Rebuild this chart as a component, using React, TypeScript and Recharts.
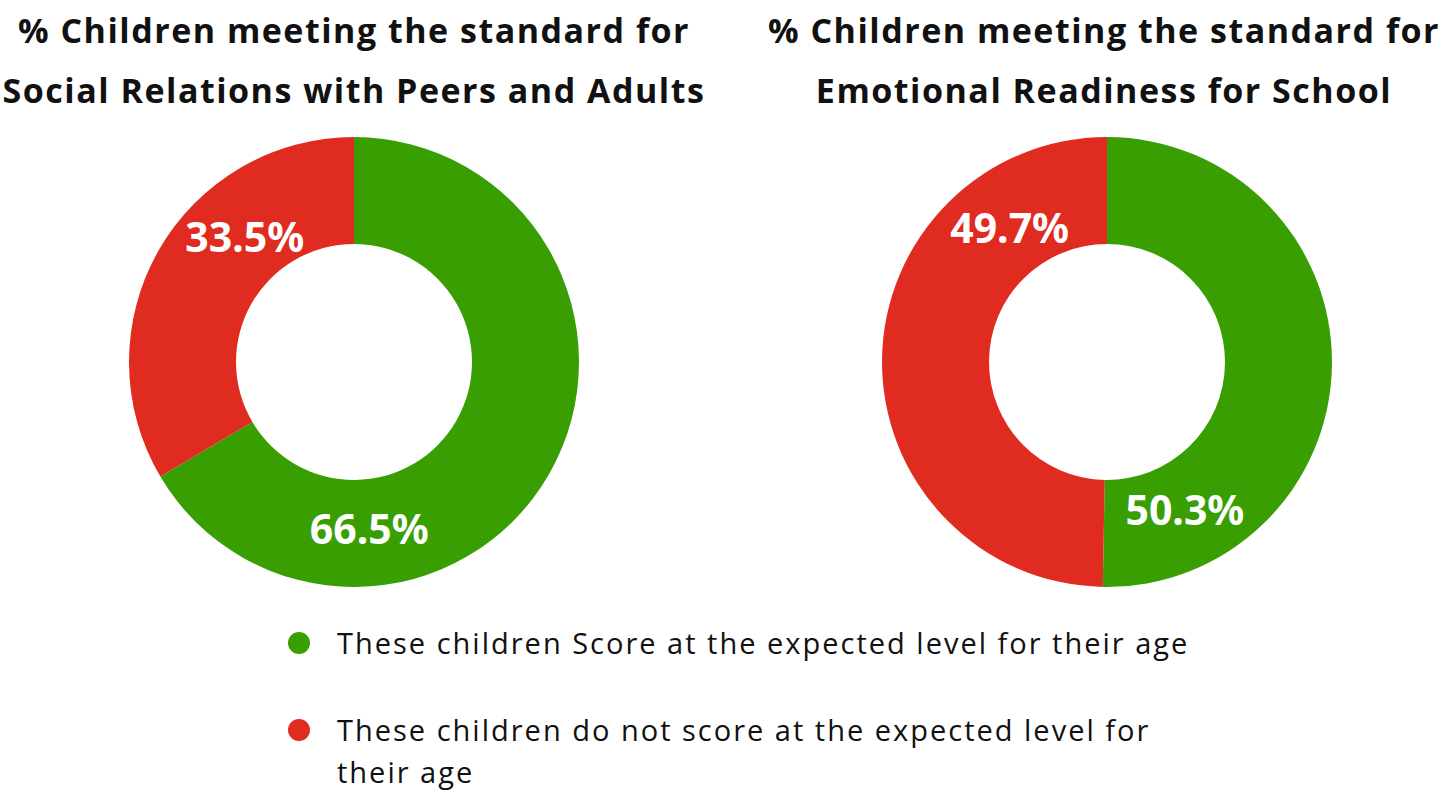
import { PieChart, Pie, Cell } from 'recharts';

// values in %, clockwise from 12 o'clock: met standard, did not meet
const categories = ['These children Score at the expected level for their age', 'These children do not score at the expected level for their age'];
const socialValues = [66.5, 33.5];
const emotionalValues = [50.3, 49.7];
const titles = [
  ['% Children meeting the standard for', 'Social Relations with Peers and Adults'],
  ['% Children meeting the standard for', 'Emotional Readiness for School'],
];

const COLORS = ['#389e02', '#e02b21'];
const RADIAN = Math.PI / 180;

const socialData = categories.map((name, i) => ({ name, value: socialValues[i] }));
const emotionalData = categories.map((name, i) => ({ name, value: emotionalValues[i] }));

// where along each slice (0 = start, 1 = end) the value label sits
const makeLabel = (fractions: number[]) => (props: any) => {
  const { cx, cy, innerRadius, outerRadius, startAngle, endAngle, index, value } = props;
  const angle = startAngle + (endAngle - startAngle) * fractions[index];
  const r = (innerRadius + outerRadius) / 2 - 5;
  const x = cx + r * Math.cos(-angle * RADIAN);
  const y = cy + r * Math.sin(-angle * RADIAN);
  return (
    <text
      x={x}
      y={y}
      fill="#fff"
      textAnchor="middle"
      dominantBaseline="central"
      fontFamily="'Noto Sans', sans-serif"
      fontSize={41}
      fontWeight={700}
    >
      {`${Number(value).toFixed(1)}%`}
    </text>
  );
};

const titleStyle: React.CSSProperties = {
  position: 'absolute',
  top: 0,
  width: 760,
  textAlign: 'center',
  fontFamily: "'Open Sans', sans-serif",
  fontWeight: 700,
  fontSize: 34,
  letterSpacing: 1.5,
  lineHeight: '60px',
  color: '#111',
};

export default function App() {
  return (
    <div style={{ position: 'absolute', left: 0, top: 0, width: 1443, height: 795, background: '#fff' }}>
      <div style={{ ...titleStyle, left: -26 }}>
        {titles[0][0]}<br />{titles[0][1]}
      </div>
      <div style={{ ...titleStyle, left: 724 }}>
        {titles[1][0]}<br />{titles[1][1]}
      </div>
      <div style={{ position: 'absolute', left: 0, top: 0 }}>
        <PieChart width={1443} height={610} margin={{ top: 0, right: 0, bottom: 0, left: 0 }}>
          <Pie
            data={socialData}
            dataKey="value"
            cx={354}
            cy={362}
            innerRadius={118}
            outerRadius={225}
            startAngle={90}
            endAngle={-270}
            stroke="none"
            labelLine={false}
            label={makeLabel([0.73, 0.66])}
            isAnimationActive={false}
          >
            {socialData.map((d, i) => (
              <Cell key={`s-${i}`} fill={COLORS[i]} />
            ))}
          </Pie>
          <Pie
            data={emotionalData}
            dataKey="value"
            cx={1107}
            cy={362}
            innerRadius={118}
            outerRadius={225}
            startAngle={90}
            endAngle={-270}
            stroke="none"
            labelLine={false}
            label={makeLabel([0.84, 0.8])}
            isAnimationActive={false}
          >
            {emotionalData.map((d, i) => (
              <Cell key={`e-${i}`} fill={COLORS[i]} />
            ))}
          </Pie>
        </PieChart>
      </div>
      <div
        style={{
          position: 'absolute',
          left: 288,
          top: 622,
          fontFamily: "'Open Sans', sans-serif",
          fontSize: 29,
          letterSpacing: 2,
          color: '#111',
        }}
      >
        {categories.map((c, i) => (
          <div key={c} style={{ display: 'flex', alignItems: 'flex-start', marginBottom: 45 }}>
            <span
              style={{
                width: 22,
                height: 22,
                borderRadius: '50%',
                background: COLORS[i],
                marginTop: 10,
                marginRight: 27,
                flex: 'none',
              }}
            />
            <span style={{ width: 875, lineHeight: '42px' }}>{c}</span>
          </div>
        ))}
      </div>
    </div>
  );
}
